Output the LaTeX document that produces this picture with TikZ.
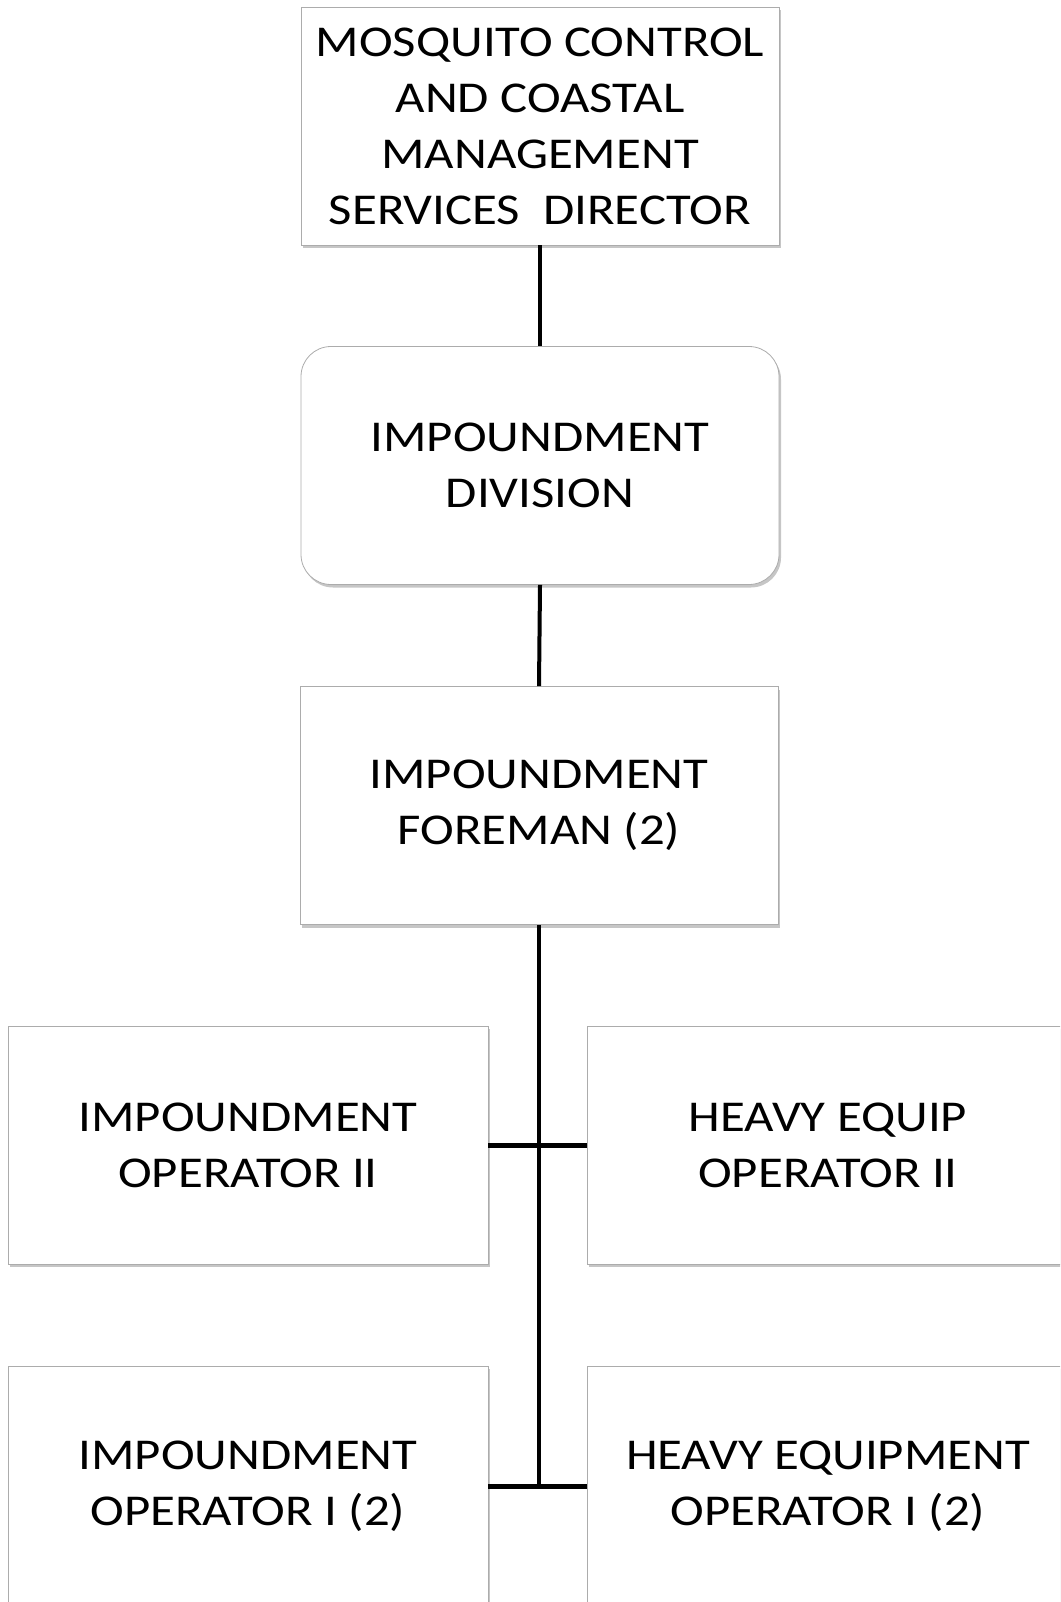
\documentclass[tikz,border=0pt]{standalone}
\usepackage{fontspec}
\setmainfont{Carlito}[FakeStretch=1.155]
\usetikzlibrary{shadows}
\begin{document}
\begin{tikzpicture}[x=1pt,y=-1pt,
  box/.style={draw=gray!65, line width=0.8pt, fill=white, align=center,
    inner sep=0pt, minimum width=478pt, minimum height=238pt,
    font=\fontsize{44}{56}\selectfont,
    drop shadow={shadow xshift=2pt, shadow yshift=-3pt, fill=gray, opacity=0.45}},
  roundbox/.style={box, rounded corners=30pt},
  link/.style={line width=4pt, black}]
\useasboundingbox (0,0) rectangle (1060,1602);
\clip (0,0) rectangle (1060,1602);

% boxes
\node[box] (dir) at (540,126) {MOSQUITO CONTROL\\AND COASTAL\\MANAGEMENT\\SERVICES\ \ DIRECTOR};
\node[roundbox] (div) at (540,465.5) {IMPOUNDMENT\\DIVISION};
\node[box] (fore) at (539,805.5) {IMPOUNDMENT\\FOREMAN (2)};
\node[box, minimum width=480pt] (op2) at (248,1145) {IMPOUNDMENT\\OPERATOR II};
\node[box, minimum width=482pt] (he2) at (828,1145) {HEAVY EQUIP\\OPERATOR II};
\node[box, minimum width=480pt, minimum height=240pt] (op1) at (248,1486) {IMPOUNDMENT\\OPERATOR I (2)};
\node[box, minimum width=482pt, minimum height=240pt] (he1) at (828,1486) {HEAVY EQUIPMENT\\OPERATOR I (2)};

% connectors: one trunk down from the foreman, with a tee at each row
\coordinate (tee1) at (fore.south |- op1.east);
\draw[link] (dir.south) -- (div.north);
\draw[link] (div.south) -- (fore.north);
\draw[link] (fore.south) -- (tee1);
\draw[link, line width=5pt] (op2.east) -- (he2.west);
\draw[link, line width=5pt] (op1.east) -- (he1.west);
\end{tikzpicture}
\end{document}
